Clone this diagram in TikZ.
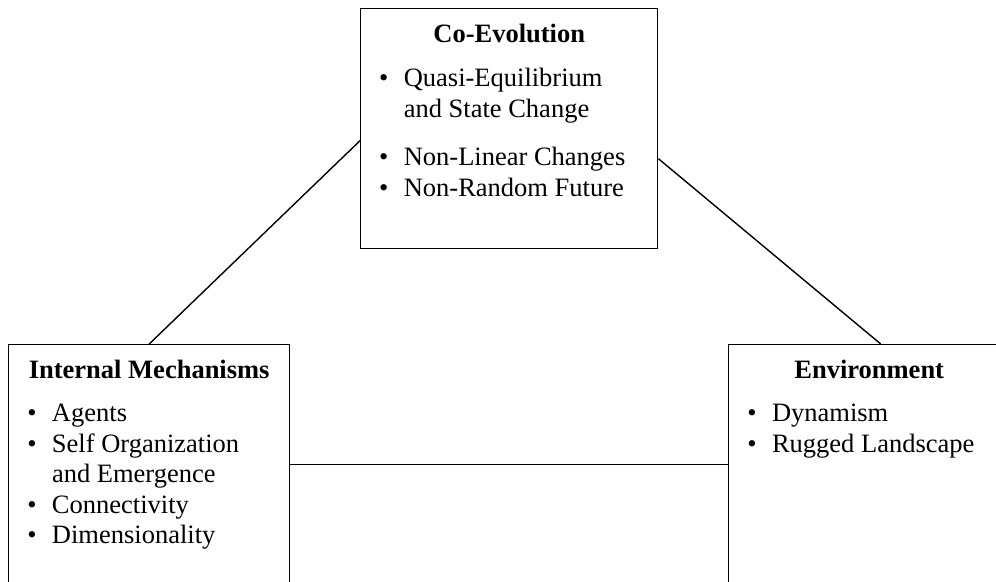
\documentclass[tikz,border=0pt]{standalone}
\usepackage{fontspec}
\setmainfont{Liberation Serif}
\newcommand{\itm}{\makebox[12.3pt][l]{\textbullet}}
\newcommand{\cnt}{\hspace*{12.3pt}}

\begin{document}
\begin{tikzpicture}[x=0.5pt,y=-0.5pt,
    boxsty/.style={draw,line width=0.7pt,minimum width=140.5pt,minimum
      height=120pt,inner sep=0pt,anchor=north west},
    titlesty/.style={font=\fontsize{13.25}{15.2}\selectfont\bfseries,inner sep=0pt,anchor=base},
    liststy/.style={font=\fontsize{13.25}{15.2}\selectfont,inner sep=0pt,anchor=base west},
    linksty/.style={line width=0.7pt}]
  \useasboundingbox (0,0) rectangle (996,582);
  \clip (0,0) rectangle (996,582);
  % co-evolution
  \node[boxsty,minimum width=148.5pt] (coevo) at (360,8) {};
  \node[titlesty] (coevoT) at ([yshift=-17.5pt]coevo.north) {Co-Evolution};
  \node[liststy] (coevoL) at ([xshift=9.4pt,yshift=-39.5pt]coevo.north west)
  {\begin{tabular}[t]{@{}l@{}}
      \itm Quasi-Equilibrium\\ \cnt and State Change\\[9pt]
      \itm Non-Linear Changes\\ \itm Non-Random Future
    \end{tabular}};

  % internal mechanisms
  \node[boxsty] (mech) at (8,344) {};
  \node[titlesty] (mechT) at ([yshift=-17.5pt]mech.north) {Internal Mechanisms};
  \node[liststy] (mechL) at ([xshift=9.5pt,yshift=-39pt]mech.north west)
  {\begin{tabular}[t]{@{}l@{}}
      \itm Agents\\ \itm Self Organization\\ \cnt and Emergence\\
      \itm Connectivity\\ \itm Dimensionality
    \end{tabular}};

  % environment
  \node[boxsty] (env) at (728,344) {};
  \node[titlesty] (envT) at ([yshift=-17.5pt]env.north) {Environment};
  \node[liststy] (envL) at ([xshift=9.5pt,yshift=-39pt]env.north west)
  {\begin{tabular}[t]{@{}l@{}}
      \itm Dynamism\\ \itm Rugged Landscape
    \end{tabular}};

  % ligacoes
  \draw[linksty] ([yshift=-6pt]coevo.west) -- (mech.north);
  \draw[linksty] ([yshift=-15pt]coevo.east) -- ([xshift=5.75pt]env.north);
  \draw[linksty] (mech.east) -- (env.west);
\end{tikzpicture}
\end{document}
